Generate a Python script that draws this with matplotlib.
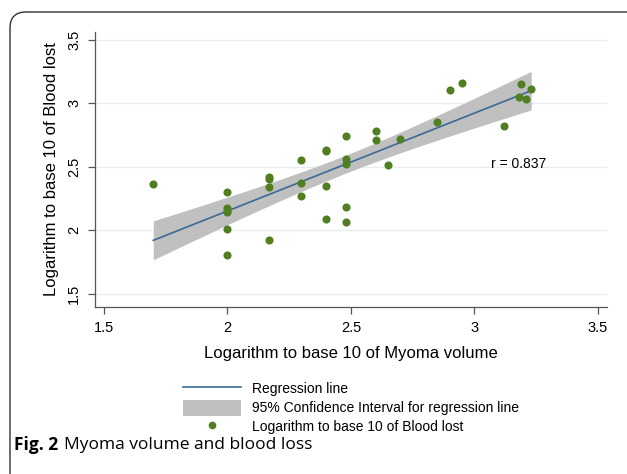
import numpy as np
import matplotlib
matplotlib.use("Agg")
import matplotlib.pyplot as plt
from matplotlib.patches import FancyBboxPatch, Patch
from matplotlib.lines import Line2D
from matplotlib.transforms import IdentityTransform

# log10 myoma volume / log10 blood lost
log_volume = [1.70, 2.00, 2.00, 2.00, 2.00, 2.00, 2.00,
              2.17, 2.17, 2.17, 2.17, 2.30, 2.30, 2.30,
              2.40, 2.40, 2.40, 2.40, 2.48, 2.48, 2.48, 2.48, 2.48,
              2.60, 2.60, 2.65, 2.70, 2.85, 2.90, 2.95,
              3.12, 3.18, 3.19, 3.21, 3.23]
log_blood = [2.36, 2.30, 2.17, 2.15, 2.14, 2.01, 1.80,
             2.42, 2.40, 2.34, 1.92, 2.55, 2.37, 2.27,
             2.63, 2.62, 2.35, 2.09, 2.74, 2.56, 2.52, 2.18, 2.06,
             2.78, 2.71, 2.51, 2.72, 2.85, 3.10, 3.16,
             2.82, 3.05, 3.15, 3.03, 3.11]
x_ticks = [1.5, 2, 2.5, 3, 3.5]
y_ticks = [1.5, 2, 2.5, 3, 3.5]
r_label = "r = 0.837"

plt.rcParams['font.family'] = ['Liberation Sans', 'DejaVu Sans']

x = np.array(log_volume)
y = np.array(log_blood)
n = len(x)
slope, icpt = np.polyfit(x, y, 1)
resid = y - (slope * x + icpt)
s = np.sqrt(np.sum(resid ** 2) / (n - 2))
xs = np.linspace(x.min(), x.max(), 100)
fit = slope * xs + icpt
se = s * np.sqrt(1.0 / n + (xs - x.mean()) ** 2 / np.sum((x - x.mean()) ** 2))
t95 = 2.035

fig = plt.figure(figsize=(6.27, 4.74), dpi=100)
W, H = 627, 474

# rounded frame around the figure (pixel coords, origin bottom-left)
frame = FancyBboxPatch((10, -20), 650, H - 12 + 20,
                       boxstyle="round,pad=0,rounding_size=16",
                       transform=IdentityTransform(), fill=False,
                       edgecolor="#333333", linewidth=1.0, clip_on=False)
fig.patches.append(frame)

ax = fig.add_axes([95 / W, 1 - 307 / H, (607 - 95) / W, (307 - 32) / H])
ax.set_xlim(1.464, 3.537)
ax.set_ylim(1.394, 3.56)

for yt in y_ticks:
    ax.axhline(yt, color="#e6eeee", linewidth=1.0, zorder=0)

ax.fill_between(xs, fit - t95 * se, fit + t95 * se, color="#c0c0c0",
                linewidth=0, zorder=1)
ax.plot(xs, fit, color="#3b6a98", linewidth=1.2, zorder=2)
ax.scatter(x, y, s=34, color="#4f7f20", zorder=3, linewidths=0)

ax.text(3.18, 2.52, r_label, fontsize=10, ha="center", va="center")

for sp in ["top", "right"]:
    ax.spines[sp].set_visible(False)
for sp in ["left", "bottom"]:
    ax.spines[sp].set_color("#555555")
    ax.spines[sp].set_linewidth(0.9)

ax.set_xticks(x_ticks)
ax.set_yticks(y_ticks)
ax.set_xticklabels([f"{v:g}" for v in x_ticks], fontsize=10.5)
ax.set_yticklabels([f"{v:g}" for v in y_ticks], fontsize=10.5,
                   rotation=90, va="center")
ax.tick_params(direction="out", length=5, color="#555555", width=0.9, pad=5)
ax.set_xlabel("Logarithm to base 10 of Myoma volume", fontsize=12, labelpad=8)
ax.set_ylabel("Logarithm to base 10 of Blood lost", fontsize=12, labelpad=6)

handles = [Line2D([], [], color="#3b6a98", linewidth=1.2),
           Patch(facecolor="#c0c0c0", edgecolor="none"),
           Line2D([], [], marker="o", linestyle="none", color="#4f7f20",
                  markersize=4.5)]
labels = ["Regression line", "95% Confidence Interval for regression line",
          "Logarithm to base 10 of Blood lost"]
fig.legend(handles, labels, loc="upper left",
           bbox_to_anchor=(176 / W, 1 - 374 / H), frameon=False,
           fontsize=10, handlelength=4.2, handleheight=1.35,
           handletextpad=0.8, labelspacing=0.25, borderpad=0)

fig.text(14 / W, 1 - 445 / H, "Fig. 2", fontsize=12.5, fontweight="bold",
         family=["Open Sans", "DejaVu Sans"], va="center")
fig.text(64 / W, 1 - 445 / H, "Myoma volume and blood loss", fontsize=12.5,
         family=["Open Sans", "DejaVu Sans"], va="center")

fig.savefig("out.png", dpi=100)
